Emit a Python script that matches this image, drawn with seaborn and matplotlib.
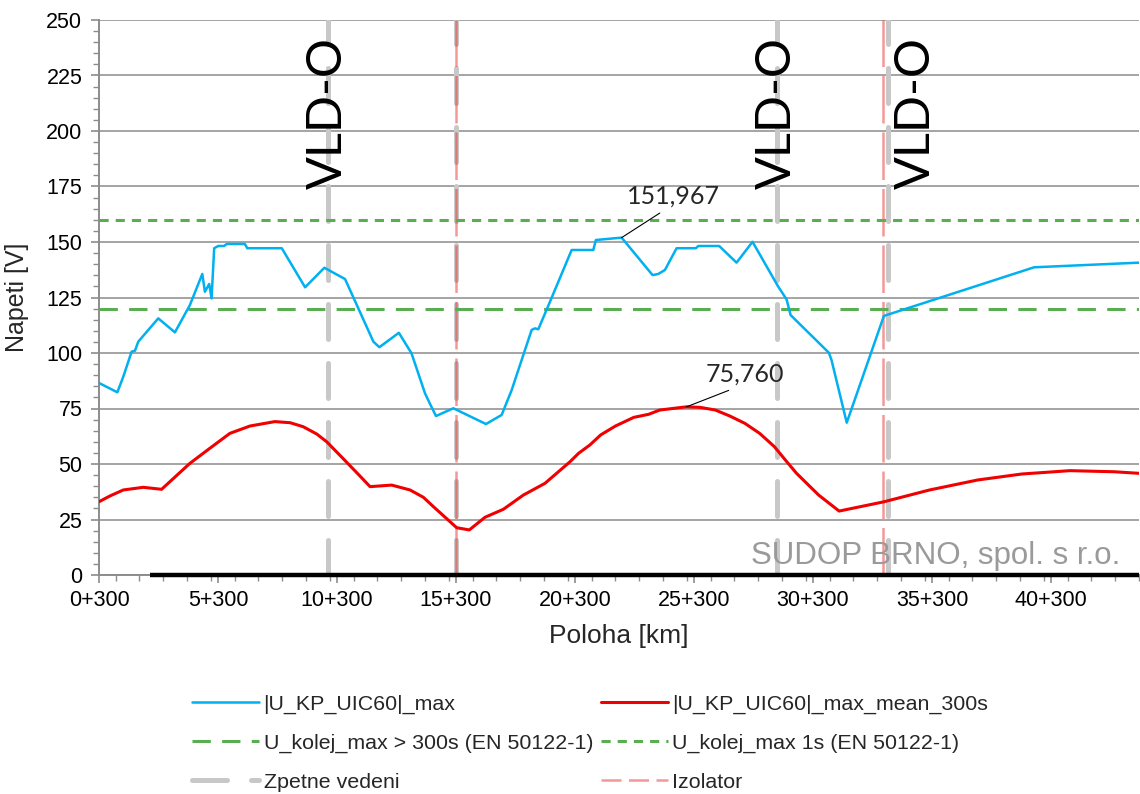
import matplotlib
matplotlib.use('Agg')
import matplotlib.pyplot as plt
from matplotlib.lines import Line2D
from matplotlib.ticker import MultipleLocator
import numpy as np
import pandas as pd
import seaborn as sns

# position along the line in km, voltage in V
u_max_km = [0.3, 1.07, 1.32, 1.67, 1.81, 1.95, 2.79, 3.49, 4.12, 4.64, 4.75, 4.93, 5.03, 5.14,
            5.31, 5.55, 5.67, 6.43, 6.53, 7.98, 8.96, 9.77, 10.64, 11.83, 12.08, 12.9, 13.43,
            14.0, 14.2, 14.46, 15.19, 16.56, 17.22, 17.64, 18.48, 18.62, 18.76, 19.25, 20.16,
            21.07, 21.18, 22.26, 23.56, 23.8, 24.08, 24.57, 25.38, 25.48, 26.36, 27.09, 27.76,
            28.84, 29.19, 29.36, 30.97, 31.08, 31.72, 33.28, 39.59, 44.0]
u_max = [86.5, 82.3, 89.3, 100.6, 101.0, 105.1, 115.6, 109.3, 121.6, 135.6, 127.6, 131.1, 124.6,
         147.2, 148.2, 148.2, 149.1, 149.1, 147.2, 147.2, 129.6, 138.4, 133.3, 105.1, 102.6,
         109.1, 99.9, 81.8, 77.3, 71.6, 75.1, 68.0, 72.1, 83.3, 110.4, 111.1, 110.7, 123.1,
         146.4, 146.4, 150.9, 151.967, 135.1, 135.6, 137.4, 147.2, 147.2, 148.2, 148.2, 140.7,
         150.1, 129.9, 124.2, 117.1, 100.1, 96.8, 68.6, 116.7, 138.6, 140.7]

u_mean_km = [0.3, 0.76, 1.32, 2.16, 2.93, 4.12, 4.96, 5.8, 6.64, 7.69, 8.33, 8.88, 9.45, 9.87,
             10.57, 11.13, 11.69, 12.6, 13.37, 13.93, 14.35, 15.33, 15.86, 16.52, 17.29, 18.13,
             19.04, 20.09, 20.45, 20.93, 21.38, 22.0, 22.77, 23.4, 23.86, 24.99, 25.57, 26.2,
             26.81, 27.44, 28.06, 28.68, 29.14, 29.61, 30.54, 31.4, 33.29, 35.2, 37.22, 39.08,
             41.1, 42.97, 44.0]
u_mean = [33.0, 35.6, 38.3, 39.5, 38.6, 50.3, 57.1, 63.8, 67.1, 69.1, 68.6, 66.8, 63.5, 60.0,
          52.3, 46.1, 39.8, 40.5, 38.3, 35.0, 30.8, 21.3, 20.3, 26.0, 29.6, 36.0, 41.3, 51.0,
          54.8, 58.6, 63.1, 67.1, 71.0, 72.4, 74.3, 75.76, 75.5, 74.3, 71.6, 68.3, 63.8, 57.8,
          51.8, 45.8, 36.0, 28.8, 33.0, 38.3, 42.8, 45.5, 47.0, 46.5, 45.8]

rail_km = [2.45, 44.0]
rail_u = [0, 0]

limit_300s = 120
limit_1s = 160
zpetne_km = [9.92, 15.3, 28.8, 33.45]
izolator_km = [15.3, 33.25]
vld_km = [9.92, 28.8, 34.63]

tick_km = [0.3, 5.3, 10.3, 15.3, 20.3, 25.3, 30.3, 35.3, 40.3]
tick_labels = ['0+300', '5+300', '10+300', '15+300', '20+300', '25+300', '30+300', '35+300', '40+300']

sns.set_theme(style='white')
plt.rcParams['font.family'] = ['Liberation Sans', 'DejaVu Sans']

blue = '#00b0f0'
red = '#f00000'
green = '#5aad50'
grey = '#c8c8c8'
axis_grey = '#8c8c8c'

fig = plt.figure(figsize=(11.4, 7.94), dpi=100)
ax = fig.add_axes([99 / 1140, 1 - 575 / 794, 1040 / 1140, 555 / 794])

ax.yaxis.grid(True, color=axis_grey, lw=1.1, zorder=0)
ax.set_axisbelow(True)

for km in zpetne_km:
    ax.axvline(km, color=grey, lw=3.6, dashes=(7.0, 4.8), dash_capstyle='round', zorder=1)
for km in izolator_km:
    ax.axvline(km, color='#e83030', alpha=0.5, lw=1.8, dashes=(19, 3.6), zorder=2)

ax.axhline(limit_300s, color=green, lw=2.2, dashes=(6, 3.7), zorder=3)
ax.axhline(limit_1s, color=green, lw=2.2, dashes=(3, 2.3), zorder=3)

df_max = pd.DataFrame({'km': u_max_km, 'u': u_max})
df_mean = pd.DataFrame({'km': u_mean_km, 'u': u_mean})
sns.lineplot(data=df_max, x='km', y='u', sort=False, color=blue, lw=1.8, ax=ax, zorder=5)
sns.lineplot(data=df_mean, x='km', y='u', sort=False, color=red, lw=2.2, ax=ax, zorder=5)
ax.plot(rail_km, rail_u, color='black', lw=3.2, solid_capstyle='butt', zorder=6, clip_on=False)

# peak labels
i_max = int(np.argmax(u_max))
ax.annotate(f'{u_max[i_max]:.3f}'.replace('.', ','), xy=(u_max_km[i_max], u_max[i_max]),
            xytext=(24.42, 170.7), ha='center', va='center', fontsize=18, family=['Lato', 'DejaVu Sans'],
            arrowprops=dict(arrowstyle='-', color='black', lw=0.8, relpos=(0.45, 0), shrinkA=3, shrinkB=0),
            zorder=7)
i_mean = int(np.argmax(u_mean))
ax.annotate(f'{u_mean[i_mean]:.3f}'.replace('.', ','), xy=(u_mean_km[i_mean], u_mean[i_mean]),
            xytext=(27.44, 90.5), ha='center', va='center', fontsize=18, family=['Lato', 'DejaVu Sans'],
            arrowprops=dict(arrowstyle='-', color='black', lw=0.8, relpos=(0.45, 0), shrinkA=3, shrinkB=0),
            zorder=7)

for km in vld_km:
    ax.text(km, 208, 'VLD-O', rotation=90, ha='center', va='center', fontsize=35,
            family=['Lato', 'DejaVu Sans'], color='black', zorder=7)

ax.text(0.982, 0.008, 'SUDOP BRNO, spol. s r.o.', transform=ax.transAxes, ha='right', va='bottom',
        fontsize=22.5, color='#9a9a9a', zorder=7)

ax.set_xlim(0.3, 44.0)
ax.set_ylim(0, 250)
ax.set_xticks(tick_km)
ax.set_xticklabels(tick_labels)
ax.xaxis.set_minor_locator(MultipleLocator(1))
ax.yaxis.set_major_locator(MultipleLocator(25))
ax.yaxis.set_minor_locator(MultipleLocator(5))
ax.tick_params(axis='both', which='major', labelsize=15.5, color=axis_grey, width=1.2, length=6,
               direction='out', labelcolor='black')
ax.tick_params(axis='x', which='major', pad=5, bottom=True)
ax.tick_params(axis='y', which='major', pad=6, left=True)
ax.tick_params(axis='both', which='minor', color=axis_grey, width=1.0, length=4, direction='out',
               bottom=True, left=True)
for side in ['top', 'right']:
    ax.spines[side].set_visible(False)
for side in ['left', 'bottom']:
    ax.spines[side].set_color(axis_grey)
    ax.spines[side].set_linewidth(1.4)

ax.set_xlabel('Poloha [km]', fontsize=19, labelpad=9)
ax.set_ylabel('Napeti [V]', fontsize=18, labelpad=12)

handles = [
    Line2D([], [], color=blue, lw=1.8),
    Line2D([], [], color=green, lw=2.2, dashes=(6, 3.7)),
    Line2D([], [], color=grey, lw=3.6, dashes=(7.0, 4.8), dash_capstyle='round'),
    Line2D([], [], color=red, lw=2.2),
    Line2D([], [], color=green, lw=2.2, dashes=(3, 2.3)),
    Line2D([], [], color='#e83030', alpha=0.5, lw=1.8, dashes=(8, 3)),
]
labels = ['|U_KP_UIC60|_max', 'U_kolej_max > 300s (EN 50122-1)', 'Zpetne vedeni',
          '|U_KP_UIC60|_max_mean_300s', 'U_kolej_max 1s (EN 50122-1)', 'Izolator']
fig.legend(handles, labels, ncol=2, loc='center', bbox_to_anchor=(0.5175, 0.0642), frameon=False,
           fontsize=15.4, handlelength=3.15, handletextpad=0.2, columnspacing=0.35, labelspacing=0.93,
           borderpad=0)

fig.savefig('out.png', dpi=100)
